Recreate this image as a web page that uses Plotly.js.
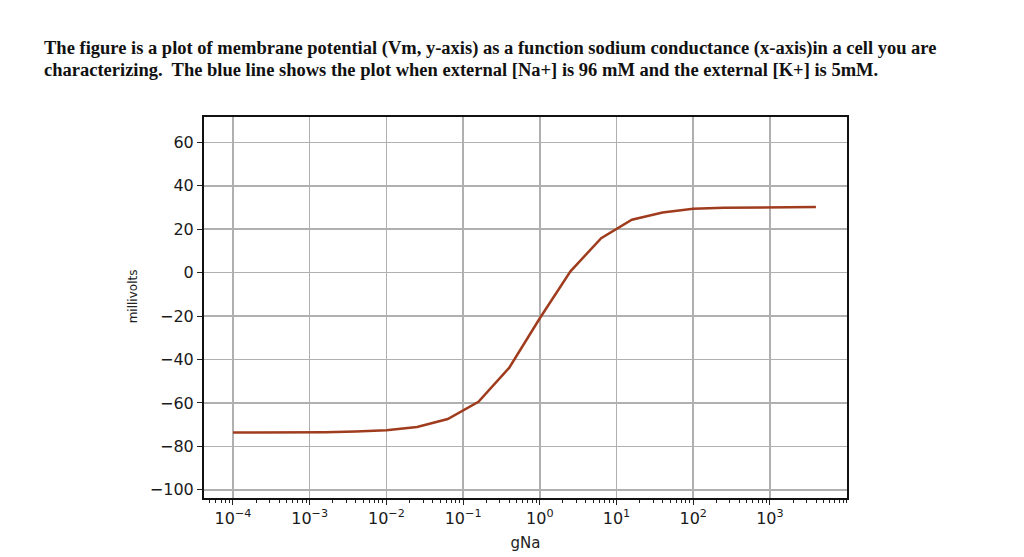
<!DOCTYPE html>
<html>
<head>
<meta charset="utf-8">
<script src="https://cdn.plot.ly/plotly-3.0.1.min.js"></script>
<style>
  html, body { margin: 0; padding: 0; background: #fff; }
  #chart { width: 1024px; height: 557px; }
</style>
</head>
<body>
<div id="chart"></div>
<script>
// Membrane potential vs sodium conductance
const gNa = [1e-4, 2.51e-4, 6.31e-4, 1.585e-3, 3.98e-3, 1e-2, 2.51e-2, 6.31e-2,
  0.1585, 0.398, 1, 2.51, 6.31, 15.85, 39.8, 100, 251, 631, 1585, 3981];
const vm = [-73.6, -73.6, -73.6, -73.5, -73.2, -72.6, -71.1, -67.4,
  -59.5, -43.9, -21.0, 0.6, 15.9, 24.4, 27.7, 29.4, 29.9, 30.1, 30.2, 30.2];

const xTickVals = [1e-4, 1e-3, 1e-2, 1e-1, 1, 10, 100, 1000];
const xTickText = ["10<sup>−4</sup>", "10<sup>−3</sup>", "10<sup>−2</sup>", "10<sup>−1</sup>",
  "10<sup>0</sup>", "10<sup>1</sup>", "10<sup>2</sup>", "10<sup>3</sup>"];
const yTickVals = [-100, -80, -60, -40, -20, 0, 20, 40, 60];
const yTickText = ["−100", "−80", "−60", "−40", "−20", "0", "20", "40", "60"];

const captionLines = [
  "The figure is a plot of membrane potential (Vm, y-axis) as a function sodium conductance (x-axis)in a cell you are",
  "characterizing.  The blue line shows the plot when external [Na+] is 96 mM and the external [K+] is 5mM."
];

const tickFont = { family: "DejaVu Sans", size: 16, color: "#1a1a1a" };
const captionFont = { family: "Liberation Serif", size: 18.5, color: "#111", weight: "bold" };

const trace = {
  x: gNa,
  y: vm,
  type: "scatter",
  mode: "lines",
  line: { color: "#a03c1e", width: 2.5 },
  hoverinfo: "skip"
};

const layout = {
  width: 1024,
  height: 557,
  margin: { l: 204, r: 177, t: 117, b: 59 },
  paper_bgcolor: "#fff",
  plot_bgcolor: "#fff",
  showlegend: false,
  font: { family: "DejaVu Sans", color: "#222" },
  xaxis: {
    type: "log",
    range: [-4.378, 4.005],
    tickvals: xTickVals,
    ticktext: xTickText,
    tickfont: tickFont,
    ticks: "outside",
    ticklen: 5,
    tickcolor: "#222",
    showgrid: true,
    gridcolor: "#b0b0b0",
    gridwidth: 1.5,
    showline: true,
    linecolor: "#111",
    linewidth: 2,
    mirror: true,
    zeroline: false,
    minor: { ticks: "outside", ticklen: 3, dtick: "D1", tickcolor: "#222", showgrid: false },
    title: { text: "gNa", font: { family: "DejaVu Sans", size: 15, color: "#222" }, standoff: 10 }
  },
  yaxis: {
    range: [-103.8, 71.7],
    tickvals: yTickVals,
    ticktext: yTickText,
    tickfont: tickFont,
    ticks: "outside",
    ticklen: 5,
    tickcolor: "#222",
    showgrid: true,
    gridcolor: "#b0b0b0",
    gridwidth: 1.5,
    showline: true,
    linecolor: "#111",
    linewidth: 2,
    mirror: true,
    zeroline: false
  },
  annotations: [
    {
      text: captionLines[0], xref: "paper", yref: "paper", x: -0.252, y: 1.18,
      xanchor: "left", yanchor: "middle", showarrow: false, font: captionFont
    },
    {
      text: captionLines[1], xref: "paper", yref: "paper", x: -0.252, y: 1.124,
      xanchor: "left", yanchor: "middle", showarrow: false, font: captionFont
    },
    {
      text: "millivolts", xref: "paper", yref: "paper", x: -0.11, y: 0.53,
      xanchor: "center", yanchor: "middle", showarrow: false, textangle: -90,
      font: { family: "DejaVu Sans", size: 12, color: "#222" }
    }
  ]
};

Plotly.newPlot("chart", [trace], layout, { displayModeBar: false, staticPlot: true });
</script>
</body>
</html>
